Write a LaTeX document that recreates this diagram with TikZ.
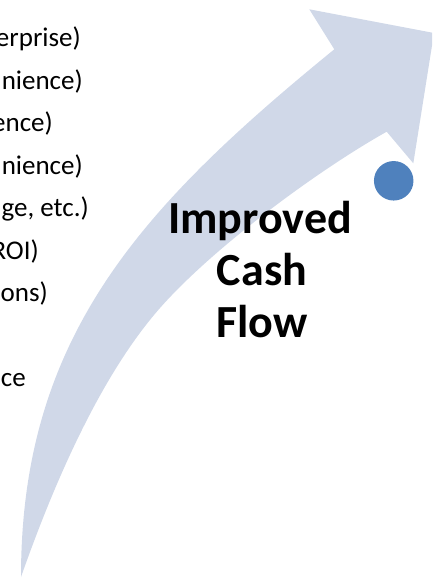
\documentclass[tikz,border=0pt]{standalone}
\usepackage{fontspec}
\setmainfont{Carlito}
\definecolor{bandcol}{RGB}{208,216,232}
\definecolor{dotcol}{RGB}{79,129,189}
\tikzset{
  listtext/.style={anchor=base east, inner sep=0pt, font=\fontsize{27}{32}\selectfont, text=black},
  titletext/.style={anchor=base, inner sep=0pt, font=\fontsize{46}{52}\selectfont\bfseries, text=black},
  dotstyle/.style={circle, fill=dotcol, draw=none, minimum size=39.5pt, inner sep=0pt}
}
\begin{document}
\begin{tikzpicture}[x=1pt,y=-1pt]
\useasboundingbox (0,0) rectangle (432,578);
\clip (0,0) rectangle (432,578);
% curved arrow
\fill[bandcol] (21,577) .. controls (21,337) and (140.5,207.3) .. (334.3,49.3)
  -- (309.3,9.3) -- (434,33) -- (413.3,163.3) -- (386.7,131.7)
  .. controls (316.9,170.9) and (212.8,248) .. (160,308)
  .. controls (100.6,375.5) and (54,483) .. (21,577)
  -- cycle;
% dot
\node[dotstyle] (dot) at (393.7,180.8) {};
% title
\node[titletext] (t1) at (260,233) {Improved};
\node[titletext] (t2) at (262,285) {Cash};
\node[titletext] (t3) at (262,337) {Flow};
% list fragments
\node[listtext] (l1) at (81,46.7) {erprise)};
\node[listtext] (l2) at (83,89.2) {nience)};
\node[listtext] (l3) at (53,131.7) {ence)};
\node[listtext] (l4) at (83,174.2) {nience)};
\node[listtext] (l5) at (89,216.7) {ge, etc.)};
\node[listtext] (l6) at (39,259.2) {ROI)};
\node[listtext] (l7) at (48,301.7) {ons)};
\node[listtext] (l8) at (26,386.7) {ce};
\end{tikzpicture}
\end{document}
